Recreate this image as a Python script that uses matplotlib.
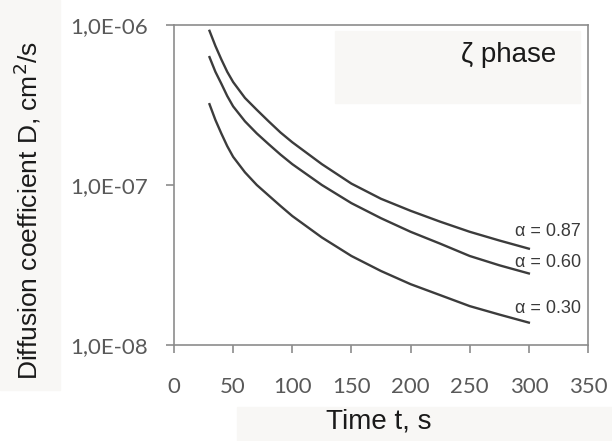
import numpy as np
import matplotlib.pyplot as plt
from matplotlib.patches import Rectangle

# time (s) and diffusion coefficient (cm^2/s)
t = [30, 35, 40, 45, 50, 60, 70, 80, 90, 100, 125, 150, 175, 200, 225, 250, 275, 300]
d_087 = [9.2e-7, 7.4e-7, 6.1e-7, 5.1e-7, 4.4e-7, 3.5e-7, 2.95e-7, 2.5e-7, 2.13e-7,
         1.85e-7, 1.35e-7, 1.02e-7, 8.2e-8, 6.9e-8, 5.9e-8, 5.1e-8, 4.5e-8, 4.0e-8]
d_060 = [6.3e-7, 5.1e-7, 4.3e-7, 3.6e-7, 3.1e-7, 2.5e-7, 2.1e-7, 1.8e-7, 1.55e-7,
         1.35e-7, 1.0e-7, 7.7e-8, 6.2e-8, 5.1e-8, 4.3e-8, 3.6e-8, 3.15e-8, 2.8e-8]
d_030 = [3.2e-7, 2.55e-7, 2.1e-7, 1.75e-7, 1.5e-7, 1.2e-7, 1.0e-7, 8.6e-8, 7.4e-8,
         6.4e-8, 4.7e-8, 3.6e-8, 2.9e-8, 2.4e-8, 2.05e-8, 1.75e-8, 1.55e-8, 1.38e-8]
curve_labels = ["\u03b1 = 0.87", "\u03b1 = 0.60", "\u03b1 = 0.30"]
label_y = [5.1e-8, 3.3e-8, 1.7e-8]

x_ticks = [0, 50, 100, 150, 200, 250, 300, 350]
y_ticks = [1e-8, 1e-7, 1e-6]
y_tick_labels = ["1,0E-08", "1,0E-07", "1,0E-06"]

axis_col = "#8c8c8c"
text_col = "#595959"
line_col = "#3c3c3c"
bg_col = "#f8f7f5"

fig = plt.figure(figsize=(6.12, 4.41), dpi=100)

# faint background patches seen behind the axis labels
fig.patches.append(Rectangle((0, 1 - 390 / 441), 60 / 612, 390 / 441,
                             transform=fig.transFigure, color=bg_col, zorder=0))
fig.patches.append(Rectangle((237 / 612, 0), 1 - 237 / 612, 34 / 441,
                             transform=fig.transFigure, color=bg_col, zorder=0))

ax = fig.add_axes([174 / 612, 1 - 345 / 441, 414 / 612, 320 / 441])
ax.patch.set_alpha(0)

for d in [d_087, d_060, d_030]:
    ax.plot(t, d, color=line_col, lw=1.7)

ax.set_yscale("log")
ax.set_xlim(0, 350)
ax.set_ylim(1e-8, 1e-6)
ax.set_xticks(x_ticks)
ax.set_xticklabels([str(v) for v in x_ticks])
ax.set_yticks(y_ticks)
ax.set_yticklabels(y_tick_labels)
ax.yaxis.set_minor_locator(plt.NullLocator())

for s in ax.spines.values():
    s.set_color(axis_col)
    s.set_linewidth(1.2)
ax.tick_params(axis="both", colors=axis_col, labelcolor=text_col, length=6,
               width=1.2, direction="out", labelsize=16)
ax.tick_params(axis="x", pad=17)
ax.tick_params(axis="y", pad=13)
for lab in ax.get_xticklabels() + ax.get_yticklabels():
    lab.set_fontfamily("Lato")

# box with phase label
ax.add_patch(Rectangle((0.388, 0.755), 0.592, 0.225, transform=ax.transAxes,
                       color=bg_col, zorder=0))
ax.text(283, 6.5e-7, "\u03b6 phase", fontsize=20, family="Liberation Sans",
        ha="center", va="center", color="#1a1a1a")

for lab, y in zip(curve_labels, label_y):
    ax.text(288, y, lab, fontsize=13, family="Liberation Sans",
            ha="left", va="center", color="#3a3a3a")

fig.text(27 / 612, 1 - 210 / 441, "Diffusion coefficient D, cm$^2$/s",
         rotation=90, ha="center", va="center", fontsize=19,
         family="Liberation Sans", color="#1a1a1a")
fig.text(379 / 612, 1 - 421 / 441, "Time t, s", ha="center", va="center",
         fontsize=20, family="Liberation Sans", color="#1a1a1a")

fig.savefig("out.png", dpi=100)
